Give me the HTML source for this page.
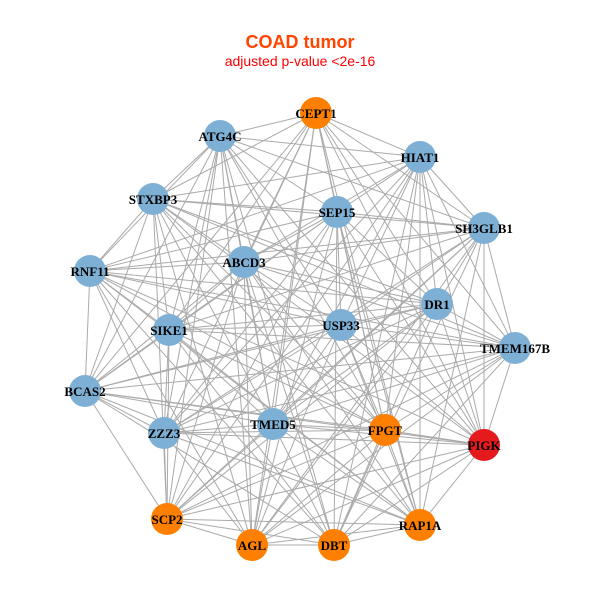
<!DOCTYPE html>
<html><head><meta charset="utf-8"><style>
html,body{margin:0;padding:0;background:#fff;width:600px;height:600px;overflow:hidden}
</style></head><body>
<svg id="g" width="600" height="600" xmlns="http://www.w3.org/2000/svg">
<rect width="600" height="600" fill="#fff"/>
<text x="300" y="48" text-anchor="middle" font-family="Liberation Sans, sans-serif" font-weight="bold" font-size="18" fill="#ff4500">COAD tumor</text>
<text x="300" y="66" text-anchor="middle" font-family="Liberation Sans, sans-serif" font-size="14" fill="#ff0000">adjusted p-value &lt;2e-16</text>
<g id="edges" stroke="#aaaaaa" stroke-width="1"></g>
<g id="nodes"></g>
<g font-family="Liberation Serif, serif" font-weight="bold" font-size="13" text-anchor="middle" fill="#000">
<text x="316" y="118">CEPT1</text>
<text x="220" y="141">ATG4C</text>
<text x="420" y="162">HIAT1</text>
<text x="153" y="204">STXBP3</text>
<text x="337" y="217">SEP15</text>
<text x="484" y="233">SH3GLB1</text>
<text x="244" y="267">ABCD3</text>
<text x="90" y="276">RNF11</text>
<text x="437" y="309">DR1</text>
<text x="169" y="335">SIKE1</text>
<text x="341" y="330">USP33</text>
<text x="515" y="353">TMEM167B</text>
<text x="85" y="396">BCAS2</text>
<text x="164" y="438">ZZZ3</text>
<text x="273" y="429">TMED5</text>
<text x="385" y="435">FPGT</text>
<text x="484" y="450">PIGK</text>
<text x="167" y="524">SCP2</text>
<text x="420" y="530">RAP1A</text>
<text x="252" y="550">AGL</text>
<text x="334" y="550">DBT</text>
</g>
</svg>
<script>
var N=[[316,113,'o'],[220,136,'b'],[420,157,'b'],[153,199,'b'],[337,212,'b'],[484,228,'b'],[244,262,'b'],[90,271,'b'],[437,304,'b'],[169,330,'b'],[341,325,'b'],[515,348,'b'],[85,391,'b'],[164,433,'b'],[273,424,'b'],[385,430,'o'],[484,445,'r'],[167,519,'o'],[420,525,'o'],[252,545,'o'],[334,545,'o']];
var C={o:'#ff8000',b:'#7eb0d5',r:'#e41a1c'};
var ns='http://www.w3.org/2000/svg',E=document.getElementById('edges'),G=document.getElementById('nodes');
var k=0;
for(var i=0;i<N.length;i++)for(var j=i+1;j<N.length;j++){k++;
 if((i*7+j*13)%10<2)continue;
 var l=document.createElementNS(ns,'line');
 l.setAttribute('x1',N[i][0]);l.setAttribute('y1',N[i][1]);l.setAttribute('x2',N[j][0]);l.setAttribute('y2',N[j][1]);E.appendChild(l);}
N.forEach(function(n){var c=document.createElementNS(ns,'circle');c.setAttribute('cx',n[0]);c.setAttribute('cy',n[1]);c.setAttribute('r',16);c.setAttribute('fill',C[n[2]]);G.appendChild(c);});
</script>
</body></html>
